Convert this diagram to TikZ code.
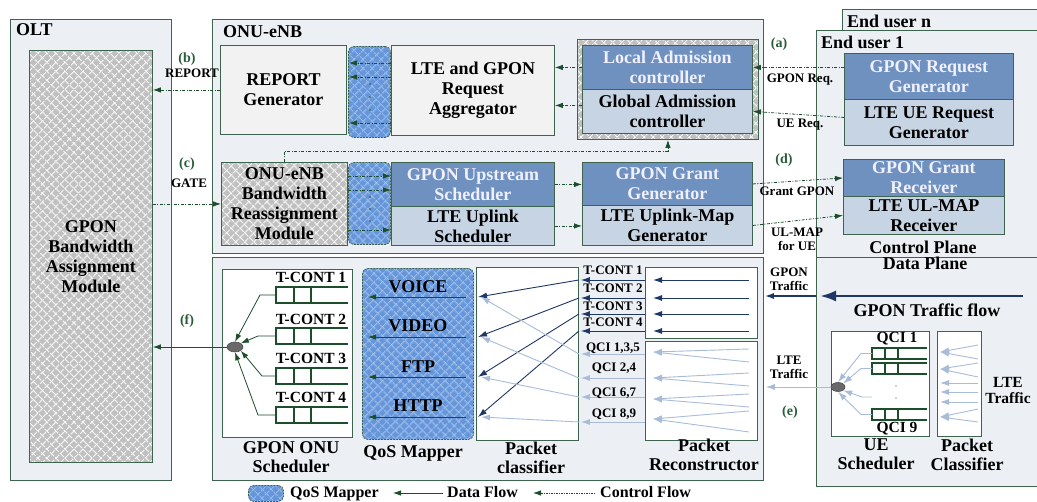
\documentclass[tikz,border=0pt]{standalone}
\usepackage{fontspec}
\setmainfont{Liberation Serif}
\usetikzlibrary{arrows.meta,patterns.meta,calc,shapes.geometric}
\definecolor{panelbg}{RGB}{236,240,245}
\definecolor{bord}{RGB}{62,100,78}
\definecolor{dgreen}{RGB}{28,78,44}
\definecolor{navy}{RGB}{30,55,100}
\definecolor{lline}{RGB}{168,188,216}
\definecolor{dblue}{RGB}{111,145,192}
\definecolor{lblue}{RGB}{198,212,228}
\definecolor{gbox}{RGB}{242,242,242}
\definecolor{hgray}{RGB}{192,192,192}
\definecolor{qblue}{RGB}{102,150,218}
\definecolor{qlight}{RGB}{150,185,235}
\definecolor{lblgreen}{RGB}{40,92,58}
\definecolor{ellfill}{RGB}{105,105,105}
\tikzset{
  big/.style={font=\bfseries\fontsize{18}{20}\selectfont},
  biglab/.style={font=\bfseries\fontsize{18}{19}\selectfont, align=center, inner sep=0pt},
  mid/.style={font=\bfseries\fontsize{15.5}{17}\selectfont, inner sep=0pt},
  small/.style={font=\bfseries\fontsize{13}{14}\selectfont, inner sep=0pt, align=center},
  leg/.style={font=\bfseries\fontsize{16}{18}\selectfont, inner sep=0pt, anchor=base west},
  glab/.style={font=\bfseries\fontsize{14}{15}\selectfont, inner sep=0pt, text=lblgreen},
  panel/.style={draw=bord, fill=panelbg, line width=0.8pt, anchor=north west, inner sep=0pt},
  box/.style={draw=bord, line width=0.9pt, big, align=center, inner sep=0pt, anchor=north west},
  darkbox/.style={box, fill=dblue, text=white!94!blue},
  lightbox/.style={box, fill=lblue},
  graybox/.style={box, fill=gbox},
  whitebox/.style={box, fill=white},
  hatchbox/.style={box, fill=hgray,
    postaction={pattern={Lines[angle=45,distance=6.5pt,line width=0.9pt]}, pattern color=white},
    postaction={pattern={Lines[angle=-45,distance=6.5pt,line width=0.9pt]}, pattern color=white},
    postaction={draw=bord, line width=0.9pt}},
  qosbox/.style={box, draw=none, fill=qblue, rounded corners=5pt,
    postaction={pattern={Lines[angle=45,distance=6.5pt,line width=1pt]}, pattern color=qlight},
    postaction={pattern={Lines[angle=-45,distance=6.5pt,line width=1pt]}, pattern color=qlight},
    postaction={draw=bord, line width=0.7pt, dash pattern=on 2pt off 1pt}},
  ctrl/.style={draw=dgreen, line width=0.8pt, dash pattern=on 3pt off 1.5pt on 1pt off 1.5pt, -{Latex[length=8pt,width=5.5pt]}},
  data/.style={draw=dgreen, line width=0.8pt, -{Latex[length=8pt,width=5.5pt]}},
  navyarr/.style={draw=navy, line width=0.9pt, -{Latex[length=9pt,width=6pt]}},
  larr/.style={draw=lline, line width=0.9pt, -{Latex[length=9pt,width=6pt]}},
  qline/.style={draw=dgreen, line width=2pt},
  tq/.pic={
    \draw[qline] (72,0) -- (0,0) -- (0,16) -- (72,16) (18,0) -- (18,16) (35,0) -- (35,16);
    \coordinate (-w) at (0,8);
  },
  uq/.pic={
    \draw[qline, line width=1.8pt] (55,0) -- (0,0) -- (0,11) -- (55,11) (13,0) -- (13,11) (26,0) -- (26,11);
    \coordinate (-w) at (0,5.5);
  },
  ell/.style={ellipse, draw=black!70, fill=ellfill, inner sep=0pt, line width=0.6pt}
}
\begin{document}
\begin{tikzpicture}[x=1pt,y=-1pt]
\useasboundingbox (0,0) rectangle (1037,502);

% ---------- panels
\node[panel, minimum width=161pt, minimum height=461pt] (olt) at (10,19) {};
\node[panel, minimum width=551pt, minimum height=234pt] (onuU) at (212,19) {};
\node[panel, minimum width=551pt, minimum height=223pt] (onuL) at (212,257) {};
\node[panel, minimum width=204pt, minimum height=40pt] (eun) at (842,9) {};
\node[panel, minimum width=230pt, minimum height=227pt] (euc) at (816,30) {};
\node[panel, minimum width=230pt, minimum height=229pt] (eud) at (816,257) {};

\node[big, anchor=north west, inner sep=0pt] (tolt) at (16,23) {OLT};
\node[big, anchor=north west, inner sep=0pt] (tonu) at (223,25) {ONU-eNB};
\node[big, anchor=north west, inner sep=0pt] (teun) at (847,15) {End user n};
\node[big, anchor=north west, inner sep=0pt] (teu1) at (821,36) {End user 1};

% ---------- OLT
\node[hatchbox, minimum width=123pt, minimum height=412pt] (bam) at (29,50) {GPON\\Bandwidth\\Assignment\\Module};

% ---------- ONU-eNB control part
\node[graybox, minimum width=126pt, minimum height=89pt] (rep) at (220,45) {REPORT\\Generator};
\node[qosbox, minimum width=42pt, minimum height=91pt] (col1) at (348,46) {};
\node[graybox, minimum width=163pt, minimum height=90pt] (agg) at (391,45) {LTE and GPON\\Request\\Aggregator};
\node[hatchbox, minimum width=181pt, minimum height=100pt] (admo) at (577,39) {};
\node[darkbox, minimum width=170pt, minimum height=44pt] (lac) at (582,45) {Local Admission\\controller};
\node[lightbox, minimum width=170pt, minimum height=44pt] (gac) at (582,89) {Global Admission\\controller};

\node[hatchbox, minimum width=126pt, minimum height=83pt] (brm) at (221,162) {ONU-eNB\\Bandwidth\\Reassignment\\Module};
\node[qosbox, minimum width=42pt, minimum height=82pt] (col2) at (348,162) {};
\node[darkbox, minimum width=163pt, minimum height=44pt] (gus) at (391,162) {GPON Upstream\\Scheduler};
\node[lightbox, minimum width=163pt, minimum height=39pt] (lus) at (391,206) {LTE Uplink\\Scheduler};
\node[darkbox, minimum width=170pt, minimum height=43pt] (ggg) at (582,162) {GPON Grant\\Generator};
\node[lightbox, minimum width=170pt, minimum height=40pt] (lumg) at (582,205) {LTE Uplink-Map\\Generator};

% ---------- End user control
\node[darkbox, minimum width=169pt, minimum height=46pt] (grg) at (844,53) {GPON Request\\Generator};
\node[lightbox, minimum width=169pt, minimum height=46pt] (lueg) at (844,99) {LTE UE Request\\Generator};
\node[darkbox, minimum width=161pt, minimum height=37pt] (ggr) at (843,159) {GPON Grant\\Receiver};
\node[lightbox, minimum width=161pt, minimum height=38pt] (lulr) at (843,196) {LTE UL-MAP\\Receiver};
\node[big, anchor=base, inner sep=0pt] (tcp) at (923,254) {Control Plane};
\node[big, anchor=base, inner sep=0pt] (tdp) at (925,270) {Data Plane};

% ---------- control arrows
\draw[ctrl] (rep.west) -- (rep.west -| bam.east);
\draw[ctrl] (brm.west -| bam.east) -- (brm.west);
\draw[ctrl] (lac.west) -- (lac.west -| agg.east);
\draw[ctrl] ([yshift=6pt]gac.west) -- ([yshift=6pt]gac.west -| agg.east);
\draw[ctrl] (grg.west |- lac.east) -- (lac.east);
\draw[ctrl] ([yshift=5pt]lueg.west) -- (gac.east);
\draw[ctrl] (ggg.east) -- (ggr.west);
\draw[ctrl] (lumg.east) -- (lulr.west);
\draw[ctrl] (gus.east) -- (gus.east -| ggg.west);
\draw[ctrl] (lus.east) -- (lus.east -| lumg.west);
\draw[ctrl] (brm.north) -- ++(0,-11) -| (admo.south);
\foreach \o in {18,32,78}
  \draw[ctrl] ($(agg.north west)+(0,\o)$) -- ($(col1.north west)+(1,\o-1)$);
\foreach \o in {14,28,68}
  \draw[ctrl] ($(col2.north west)+(0,\o)$) -- ($(gus.north west)+(0,\o)$);
\foreach \y in {84,97,110,197,209,221}
  \fill[dgreen] (370,\y) circle (0.8pt);

% ---------- control labels
\node[glab] (lb) at (187,59) {(b)};
\node[small, anchor=base] (lrep) at (192,78) {REPORT};
\node[glab] (lc) at (187,164) {(c)};
\node[small, anchor=base] (lgate) at (189,188) {GATE};
\node[glab] (la) at (779,44) {(a)};
\node[small, anchor=base] (lgreq) at (800,83) {GPON Req.};
\node[small, anchor=base] (lureq) at (800,128) {UE Req.};
\node[glab] (ld) at (784,160) {(d)};
\node[small, anchor=base] (lgg) at (797,196) {Grant GPON};
\node[small, anchor=north] (lul) at (797,228) {UL-MAP\\for UE};

% ---------- data plane boxes
\node[whitebox, minimum width=130pt, minimum height=168pt] (gos) at (222,269) {};
\node[qosbox, minimum width=111pt, minimum height=171pt] (qos) at (362,268) {};
\node[whitebox, minimum width=102pt, minimum height=173pt] (pcl) at (476,267) {};
\node[whitebox, minimum width=112pt, minimum height=71pt] (prt) at (645,267) {};
\node[whitebox, minimum width=112pt, minimum height=99pt] (prb) at (645,341) {};
\node[whitebox, minimum width=98pt, minimum height=105pt] (ues) at (831,331) {};
\node[whitebox, minimum width=44pt, minimum height=105pt] (pcl2) at (937,331) {};

\node[biglab, anchor=north] (lgos) at (291,441) {GPON ONU\\Scheduler};
\node[biglab, anchor=base] (lqos) at (413,458) {QoS Mapper};
\node[biglab, anchor=north] (lpcl) at (531,442) {Packet\\classifier};
\node[biglab, anchor=north] (lprc) at (704,439) {Packet\\Reconstructor};
\node[biglab, anchor=north] (lues) at (876,439) {UE\\Scheduler};
\node[biglab, anchor=north] (lpc2) at (967,439) {Packet\\Classifier};

% ---------- GPON ONU scheduler
\pic (q1) at (276,287) {tq};
\pic (q2) at (276,328) {tq};
\pic (q3) at (276,368) {tq};
\pic (q4) at (276,407) {tq};
\node[mid, anchor=base] (t1) at (311,283) {T-CONT 1};
\node[mid, anchor=base] (t2) at (311,325) {T-CONT 2};
\node[mid, anchor=base] (t3) at (311,364) {T-CONT 3};
\node[mid, anchor=base] (t4) at (311,403) {T-CONT 4};
\node[ell, minimum width=16pt, minimum height=10pt] (e1) at (235,347) {};
\draw[data] (q1-w) -- ++(-16,0) -- (e1.north);
\draw[data] (q2-w) -- ++(-18,0) -- (e1.north east);
\draw[data] (q3-w) -- ++(-14,0) -- (e1.south east);
\draw[data] (q4-w) -- ++(-18,0) -- (e1.south);
\draw[data] (e1.west) -- (e1.west -| bam.east);
\node[glab] (lf) at (187,321) {(f)};

% ---------- QoS mapper
\foreach \n/\y in {1/297,2/337,3/377,4/417}{
  \coordinate (qs\n) at (478,\y);
  \draw[data] ([xshift=-8pt]qos.east |- qs\n) -- ([xshift=6pt]qos.west |- qs\n);
}
\node[big, anchor=base, inner sep=0pt] (vv) at (418,293) {VOICE};
\node[big, anchor=base, inner sep=0pt] (vd) at (418,332) {VIDEO};
\node[big, anchor=base, inner sep=0pt] (vf) at (418,373) {FTP};
\node[big, anchor=base, inner sep=0pt] (vh) at (418,412) {HTTP};

% ---------- Packet reconstructor / classifier
\foreach \n/\y in {1/280,2/298,3/314,4/331}{
  \coordinate (pr\n) at (645,\y);
  \draw[navyarr] ([xshift=-9pt]prt.east |- pr\n) -- ([xshift=8pt]prt.west |- pr\n);
  \draw[navyarr] (prt.west |- pr\n) -- ([xshift=2pt]pcl.east |- pr\n);
  \draw[navyarr] (pcl.east |- pr\n) -- (qs\n);
}
\foreach \n/\y in {1/354,2/378,3/397,4/422}{
  \coordinate (ql\n) at (645,\y);
  \draw[larr] (prb.west |- ql\n) -- ([xshift=2pt]pcl.east |- ql\n);
  \draw[larr] (pcl.east |- ql\n) -- ([xshift=3pt]qs\n);
}
\foreach \t/\a/\b in {352/349/362,378/373/386,399/394/407,419/411/432}{
  \draw[larr] (749,\a) -- (653,\t);
  \draw[larr] (749,\b) -- (653,\t);
}
\node[small, anchor=base] (m1) at (613,275) {T-CONT 1};
\node[small, anchor=base] (m2) at (613,293) {T-CONT 2};
\node[small, anchor=base] (m3) at (613,311) {T-CONT 3};
\node[small, anchor=base] (m4) at (613,327) {T-CONT 4};
\node[small, anchor=base] (c1) at (613,352) {QCI 1,3,5};
\node[small, anchor=base] (c2) at (614,372) {QCI 2,4};
\node[small, anchor=base] (c3) at (614,397) {QCI 6,7};
\node[small, anchor=base] (c4) at (614,418) {QCI 8,9};

% ---------- GPON traffic
\coordinate (gts) at (1023,296);
\draw[draw=navy, line width=2.5pt, -{Latex[length=16pt,width=11pt]}] (gts) -- ([xshift=4pt]eud.west |- gts);
\draw[navyarr, line width=1.4pt] (eud.west |- gts) -- ([xshift=1pt]onuL.east |- gts);
\node[big, anchor=base, inner sep=0pt] (tgtf) at (927,317) {GPON Traffic flow};
\node[small, anchor=north] (lgt) at (789,268) {GPON\\Traffic};
\node[small, anchor=north] (llt) at (789,356) {LTE\\Traffic};
\node[glab] (le) at (790,412) {(e)};

% ---------- UE scheduler
\pic (u1) at (872,348) {uq};
\pic (u2) at (872,363) {uq};
\pic (u3) at (872,409) {uq};
\fill[dgreen] (896,386) circle (0.7pt) (896,398) circle (0.7pt);
\node[mid, anchor=base] (qc1) at (897,343) {QCI 1};
\node[mid, anchor=base] (qc9) at (897,433) {QCI 9};
\node[ell, minimum width=14pt, minimum height=9pt] (e2) at (838,387) {};
\coordinate (um) at (872,397);
\draw[larr] (u1-w) -- ++(-11,0) -- (e2.north);
\draw[larr] (u2-w) -- ++(-11,0) -- (e2.north east);
\draw[larr] (um) -- ++(-10,0) -- (e2.south east);
\draw[larr] (u3-w) -- ++(-11,0) -- (e2.south);
\draw[larr] (e2.west) -- ([xshift=2pt]e2.west -| onuL.east);
\foreach \t/\s in {352/345,352/359,369/363,369/377,383/383,392/392,402/402,417/409,417/422}
  \draw[larr] (978,\s) -- (940,\t);
\node[font=\bfseries\fontsize{15.5}{16}\selectfont, align=center, inner sep=0pt] (llt2) at (1008,391) {LTE\\Traffic};

% ---------- legend
\node[qosbox, minimum width=35pt, minimum height=16pt] (lgq) at (248,485) {};
\node[leg] (lg1) at (290,498) {QoS Mapper};
\coordinate (ld1) at (443,493);
\coordinate (ld2) at (393,493);
\draw[data] (ld1) -- (ld2);
\node[leg] (lg2) at (447,498) {Data Flow};
\coordinate (lc1) at (595,493);
\coordinate (lc2) at (533,493);
\draw[ctrl, dash pattern=on 1.5pt off 1pt] (lc1) -- (lc2);
\node[leg] (lg3) at (600,498) {Control Flow};
\end{tikzpicture}
\end{document}
